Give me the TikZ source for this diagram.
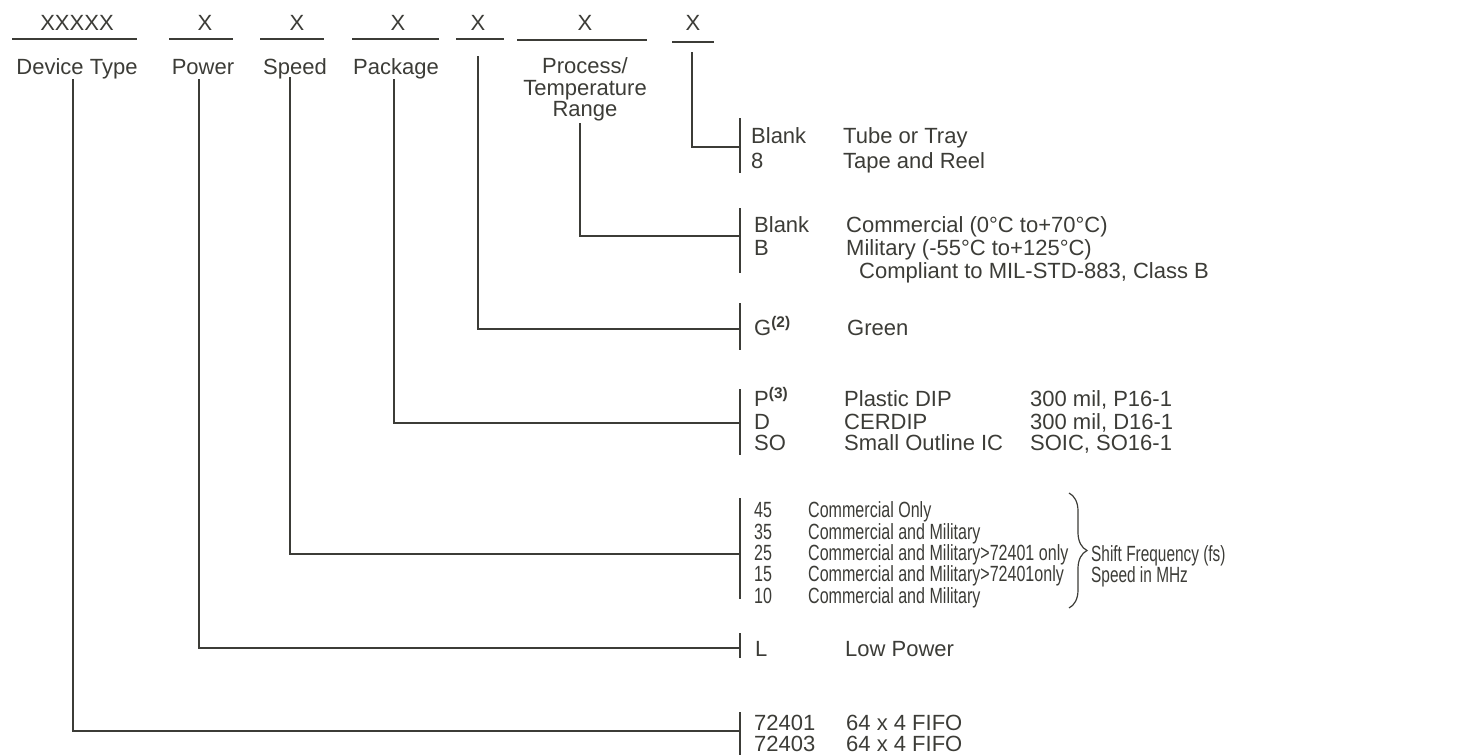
\documentclass[tikz,border=0pt]{standalone}
\usepackage{fontspec}
\setmainfont{Liberation Sans}
\newfontfamily\narrowfont[FakeStretch=0.73]{Liberation Sans}
\newfontfamily\narrowerfont[FakeStretch=0.70]{Liberation Sans}
\usetikzlibrary{decorations.pathreplacing}
\definecolor{ink}{HTML}{3C3C37}
\begin{document}
\begin{tikzpicture}[x=1pt,y=-1pt,
  every node/.style={inner sep=0pt, text=ink, font=\fontsize{22}{22}\selectfont},
  hdr/.style={anchor=base},
  codetxt/.style={anchor=base west},
  nartxt/.style={anchor=base west, font=\narrowfont\fontsize{22}{22}\selectfont},
  bracetxt/.style={anchor=base west, font=\narrowerfont\fontsize{22}{22}\selectfont},
  rule/.style={draw=ink, line width=2pt, line join=miter}]
\useasboundingbox (0,0) rectangle (1460,755);

% ---- header letters
\node[hdr] (hx1) at (77,30) {XXXXX};
\node[hdr] (hx2) at (205,30) {X};
\node[hdr] (hx3) at (297,30) {X};
\node[hdr] (hx4) at (398,30) {X};
\node[hdr] (hx5) at (478,30) {X};
\node[hdr] (hx6) at (585,30) {X};
\node[hdr] (hx7) at (693,30) {X};

% ---- underlines
\coordinate (u1a) at (12,39);  \coordinate (u1b) at (137,39);
\coordinate (u2a) at (169,39); \coordinate (u2b) at (233,39);
\coordinate (u3a) at (260,39); \coordinate (u3b) at (324,39);
\coordinate (u4a) at (352,39); \coordinate (u4b) at (439,39);
\coordinate (u5a) at (456,39); \coordinate (u5b) at (504,39);
\coordinate (u6a) at (517,40); \coordinate (u6b) at (647,40);
\coordinate (u7a) at (672,42); \coordinate (u7b) at (714,42);
\foreach \i in {1,...,7} {\draw[rule] (u\i a) -- (u\i b);}

% ---- header labels
\node[hdr] (ldev) at (77,74) {Device Type};
\node[hdr] (lpow) at (203,74) {Power};
\node[hdr] (lspd) at (295,74) {Speed};
\node[hdr] (lpkg) at (396,74) {Package};
\node[hdr] (lpr1) at (585,73) {Process/};
\node[hdr] (lpr2) at (585,95) {Temperature};
\node[hdr] (lpr3) at (585,116) {Range};

% ---- bars
\coordinate (b1t) at (740,118); \coordinate (b1b) at (740,173);
\coordinate (b2t) at (740,208); \coordinate (b2b) at (740,273);
\coordinate (b3t) at (740,303); \coordinate (b3b) at (740,350);
\coordinate (b4t) at (740,389); \coordinate (b4b) at (740,455);
\coordinate (b5t) at (740,498); \coordinate (b5b) at (740,599);
\coordinate (b6t) at (740,633); \coordinate (b6b) at (740,658);
\coordinate (b7t) at (740,712); \coordinate (b7b) at (740,755);
\foreach \i in {1,...,7} {\draw[rule] (b\i t) -- (b\i b);}

% ---- connector starts and junctions
\coordinate (s1) at (692,52);  \coordinate (j1) at (740,147);
\coordinate (s2) at (580,123); \coordinate (j2) at (740,236);
\coordinate (s3) at (478,56);  \coordinate (j3) at (740,329);
\coordinate (s4) at (394,79);  \coordinate (j4) at (740,423);
\coordinate (s5) at (290,77);  \coordinate (j5) at (740,554);
\coordinate (s6) at (199,79);  \coordinate (j6) at (740,648);
\coordinate (s7) at (73,79);   \coordinate (j7) at (740,731);
\foreach \i in {1,...,7} {\draw[rule] (s\i) |- (j\i);}

% ---- group 1
\node[codetxt] (c1a) at (751,143) {Blank};
\node[codetxt] (c1b) at (751,168) {8};
\node[codetxt] (d1a) at (843,143) {Tube or Tray};
\node[codetxt] (d1b) at (843,168) {Tape and Reel};

% ---- group 2
\node[codetxt] (c2a) at (754,232) {Blank};
\node[codetxt] (c2b) at (754,255) {B};
\node[codetxt] (d2a) at (846,232) {Commercial (0°C to+70°C)};
\node[codetxt] (d2b) at (846,255) {Military (-55°C to+125°C)};
\node[codetxt] (d2c) at (859,278) {Compliant to MIL-STD-883, Class B};

% ---- group 3
\node[codetxt] (c3a) at (754,335) {G\textsuperscript{\textbf{(2)}}};
\node[codetxt] (d3a) at (847,335) {Green};

% ---- group 4
\node[codetxt] (c4a) at (754,406) {P\textsuperscript{\textbf{(3)}}};
\node[codetxt] (c4b) at (754,429) {D};
\node[codetxt] (c4c) at (754,450) {SO};
\node[codetxt] (d4a) at (844,406) {Plastic DIP};
\node[codetxt] (d4b) at (844,429) {CERDIP};
\node[codetxt] (d4c) at (844,450) {Small Outline IC};
\node[codetxt] (e4a) at (1030,406) {300 mil, P16-1};
\node[codetxt] (e4b) at (1030,429) {300 mil, D16-1};
\node[codetxt] (e4c) at (1030,450) {SOIC, SO16-1};

% ---- group 5
\node[nartxt] (c5a) at (754,517) {45};
\node[nartxt] (c5b) at (754,539) {35};
\node[nartxt] (c5c) at (754,560) {25};
\node[nartxt] (c5d) at (754,581) {15};
\node[nartxt] (c5e) at (754,603) {10};
\node[nartxt] (d5a) at (808,517) {Commercial Only};
\node[nartxt] (d5b) at (808,539) {Commercial and Military};
\node[nartxt] (d5c) at (808,560) {Commercial and Military>72401 only};
\node[nartxt] (d5d) at (808,581) {Commercial and Military>72401only};
\node[nartxt] (d5e) at (808,603) {Commercial and Military};
\coordinate (brt) at (1069,493);
\coordinate (brb) at (1069,608);
\draw[draw=ink, line width=1.2pt, decorate, decoration={brace, amplitude=18pt}] (brt) -- (brb);
\node[bracetxt] (f5a) at (1091,561) {Shift Frequency (fs)};
\node[bracetxt] (f5b) at (1091,582) {Speed in MHz};

% ---- group 6
\node[codetxt] (c6a) at (755,656) {L};
\node[codetxt] (d6a) at (845,656) {Low Power};

% ---- group 7
\node[codetxt] (c7a) at (754,730) {72401};
\node[codetxt] (c7b) at (754,751) {72403};
\node[codetxt] (d7a) at (846,730) {64 x 4 FIFO};
\node[codetxt] (d7b) at (846,751) {64 x 4 FIFO};
\end{tikzpicture}
\end{document}
